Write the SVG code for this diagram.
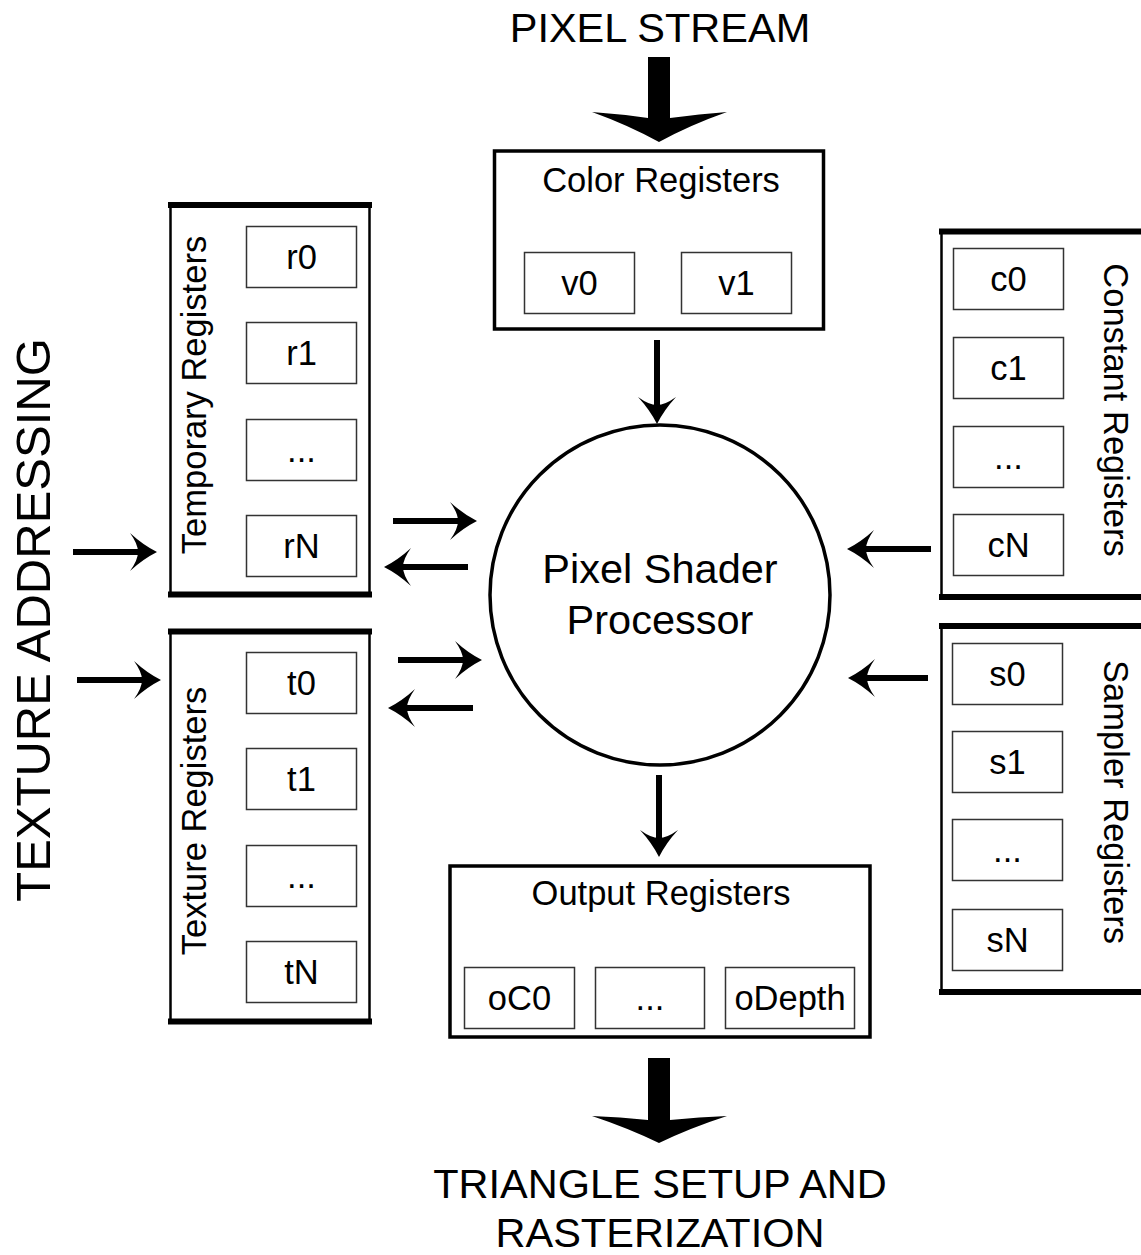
<svg xmlns="http://www.w3.org/2000/svg" width="1141" height="1255" viewBox="0 0 1141 1255">
<style>
text{font-family:"Liberation Sans",Arial,sans-serif;fill:#000}
.big{font-size:41.5px;text-anchor:middle}
.lbl{font-size:34.5px;text-anchor:middle}
.reg{fill:#fff;stroke:#333;stroke-width:1.5}
.frame{fill:#fff;stroke:#000;stroke-width:2.5}
.bar{stroke:#000;stroke-width:6}
.box{fill:#fff;stroke:#000;stroke-width:3.5}
.ln{stroke:#000;stroke-width:6}
</style>
<defs>
<path id="ah" d="M0,0 Q-14,-7 -27,-19 Q-19,-8 -19,0 Q-19,8 -27,19 Q-14,7 0,0 Z" fill="#000"/>
</defs>
<rect width="1141" height="1255" fill="#fff"/>

<g id="pixel-stream">
<text class="big" x="660" y="42">PIXEL STREAM</text>
<path d="M648,57 H670 V118 Q700,114 727,112 Q690,125 659,142 Q628,125 592,112 Q620,114 648,118 Z" fill="#000"/>
</g>

<g id="triangle-setup">
<path d="M648,1058 H670 V1120 Q700,1117 727,1116 Q690,1128 659,1143 Q628,1128 592,1116 Q620,1117 648,1120 Z" fill="#000"/>
<text class="big" x="660" y="1198">TRIANGLE SETUP AND</text>
<text class="big" x="660" y="1247">RASTERIZATION</text>
</g>

<g id="texture-addressing">
<text x="50" y="620" transform="rotate(-90 50 620)" style="font-size:49px;text-anchor:middle">TEXTURE ADDRESSING</text>
</g>

<g id="color-registers">
<rect class="box" x="494.5" y="151" width="329" height="178"/>
<text class="lbl" x="661" y="192">Color Registers</text>
<rect class="reg" x="524.5" y="252.5" width="110" height="61"/>
<text class="lbl" x="579.5" y="295">v0</text>
<rect class="reg" x="681.5" y="252.5" width="110" height="61"/>
<text class="lbl" x="736.5" y="295">v1</text>
</g>

<g id="processor">
<circle cx="660" cy="595" r="170" fill="#fff" stroke="#000" stroke-width="3.5"/>
<text class="big" x="660" y="583">Pixel Shader</text>
<text class="big" x="660" y="634">Processor</text>
</g>

<g id="output-registers">
<rect class="box" x="450" y="866" width="420" height="171"/>
<text class="lbl" x="661" y="905">Output Registers</text>
<rect class="reg" x="464.5" y="967.5" width="110" height="61"/>
<text class="lbl" x="519.5" y="1010">oC0</text>
<rect class="reg" x="595.5" y="967.5" width="109" height="61"/>
<text class="lbl" x="650" y="1010">...</text>
<rect class="reg" x="725.5" y="967.5" width="129" height="61"/>
<text class="lbl" x="790" y="1010">oDepth</text>
</g>

<g id="temporary-registers">
<rect class="frame" x="170.5" y="205" width="199" height="389.5"/>
<line class="bar" x1="168" y1="205" x2="372" y2="205"/>
<line class="bar" x1="168" y1="594.5" x2="372" y2="594.5"/>
<text class="lbl" x="206" y="395" transform="rotate(-90 206 395)">Temporary Registers</text>
<rect class="reg" x="246.5" y="226.5" width="110" height="61"/>
<text class="lbl" x="301.5" y="269">r0</text>
<rect class="reg" x="246.5" y="322.5" width="110" height="61"/>
<text class="lbl" x="301.5" y="365">r1</text>
<rect class="reg" x="246.5" y="419.5" width="110" height="61"/>
<text class="lbl" x="301.5" y="462">...</text>
<rect class="reg" x="246.5" y="515.5" width="110" height="61"/>
<text class="lbl" x="301.5" y="558">rN</text>
</g>

<g id="texture-registers">
<rect class="frame" x="170.5" y="631.5" width="199" height="390"/>
<line class="bar" x1="168" y1="631.5" x2="372" y2="631.5"/>
<line class="bar" x1="168" y1="1021.5" x2="372" y2="1021.5"/>
<text class="lbl" x="206" y="821" transform="rotate(-90 206 821)">Texture Registers</text>
<rect class="reg" x="246.5" y="652.5" width="110" height="61"/>
<text class="lbl" x="301.5" y="695">t0</text>
<rect class="reg" x="246.5" y="748.5" width="110" height="61"/>
<text class="lbl" x="301.5" y="791">t1</text>
<rect class="reg" x="246.5" y="845.5" width="110" height="61"/>
<text class="lbl" x="301.5" y="888">...</text>
<rect class="reg" x="246.5" y="941.5" width="110" height="61"/>
<text class="lbl" x="301.5" y="984">tN</text>
</g>

<g id="constant-registers">
<rect class="frame" x="941.5" y="231.5" width="205" height="365.5"/>
<line class="bar" x1="939" y1="231.5" x2="1141" y2="231.5"/>
<line class="bar" x1="939" y1="597" x2="1141" y2="597"/>
<text class="lbl" x="1104" y="410" transform="rotate(90 1104 410)">Constant Registers</text>
<rect class="reg" x="953.5" y="248.5" width="110" height="61"/>
<text class="lbl" x="1008.5" y="291">c0</text>
<rect class="reg" x="953.5" y="337.5" width="110" height="61"/>
<text class="lbl" x="1008.5" y="380">c1</text>
<rect class="reg" x="953.5" y="426.5" width="110" height="61"/>
<text class="lbl" x="1008.5" y="469">...</text>
<rect class="reg" x="953.5" y="514.5" width="110" height="61"/>
<text class="lbl" x="1008.5" y="557">cN</text>
</g>

<g id="sampler-registers">
<rect class="frame" x="941.5" y="626" width="205" height="366"/>
<line class="bar" x1="939" y1="626" x2="1141" y2="626"/>
<line class="bar" x1="939" y1="992" x2="1141" y2="992"/>
<text class="lbl" x="1104" y="802" transform="rotate(90 1104 802)">Sampler Registers</text>
<rect class="reg" x="952.5" y="643.5" width="110" height="61"/>
<text class="lbl" x="1007.5" y="686">s0</text>
<rect class="reg" x="952.5" y="731.5" width="110" height="61"/>
<text class="lbl" x="1007.5" y="774">s1</text>
<rect class="reg" x="952.5" y="819.5" width="110" height="61"/>
<text class="lbl" x="1007.5" y="862">...</text>
<rect class="reg" x="952.5" y="909.5" width="110" height="61"/>
<text class="lbl" x="1007.5" y="952">sN</text>
</g>

<g id="connectors">
<line class="ln" x1="73" y1="552" x2="140" y2="552"/>
<use href="#ah" transform="translate(157 552)"/>
<line class="ln" x1="77" y1="680" x2="144" y2="680"/>
<use href="#ah" transform="translate(161 680)"/>

<line class="ln" x1="393" y1="521" x2="460" y2="521"/>
<use href="#ah" transform="translate(477 521)"/>
<line class="ln" x1="468" y1="567" x2="401" y2="567"/>
<use href="#ah" transform="translate(384 567) rotate(180)"/>

<line class="ln" x1="398" y1="660" x2="465" y2="660"/>
<use href="#ah" transform="translate(482 660)"/>
<line class="ln" x1="473" y1="708" x2="405" y2="708"/>
<use href="#ah" transform="translate(388 708) rotate(180)"/>

<line class="ln" x1="931" y1="549" x2="864" y2="549"/>
<use href="#ah" transform="translate(847 549) rotate(180)"/>
<line class="ln" x1="928" y1="678" x2="865" y2="678"/>
<use href="#ah" transform="translate(848 678) rotate(180)"/>

<line class="ln" x1="657" y1="340" x2="657" y2="406"/>
<use href="#ah" transform="translate(657 424) rotate(90)"/>
<line class="ln" x1="659" y1="775" x2="659" y2="840"/>
<use href="#ah" transform="translate(659 857) rotate(90)"/>
</g>
</svg>
